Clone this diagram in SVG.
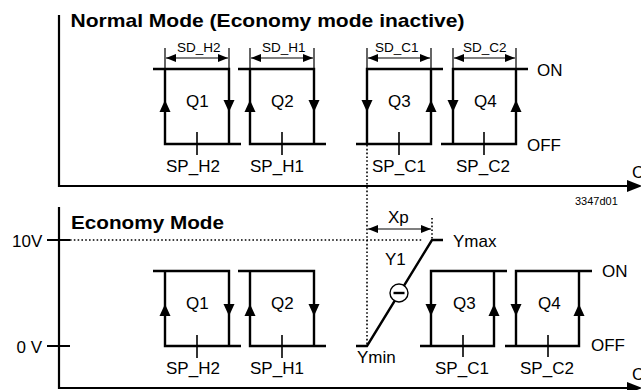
<svg xmlns="http://www.w3.org/2000/svg" width="641" height="390" viewBox="0 0 641 390">
<style>
text{font-family:"Liberation Sans",Arial,sans-serif;fill:#000}
.t{font-size:17px}
.s{font-size:13.5px}
.b{font-size:19px;font-weight:bold}
.box{fill:none;stroke:#000;stroke-width:2.4;stroke-linejoin:miter}
.tick{stroke:#000;stroke-width:1.6}
.dim{stroke:#000;stroke-width:1.2;fill:none}
.dot{stroke:#000;stroke-width:1.6;stroke-dasharray:1.6 2.2;fill:none}
.ax{stroke:#000;stroke-width:2.2;fill:none}
.ah{fill:#000}
</style>
<defs>
<marker id="da" viewBox="0 0 10 8" refX="10" refY="4" markerWidth="10" markerHeight="8" markerUnits="userSpaceOnUse" orient="auto-start-reverse"><path d="M0,0 L10,4 L0,8 Z" fill="#000"/></marker>
<path id="up" d="M0,-6 L5.5,6 L-5.5,6 Z"/>
<path id="dn" d="M0,6 L5.5,-6 L-5.5,-6 Z"/>
</defs>

<g id="axes">
<path class="ax" d="M59,15 V186 H628"/>
<path class="ah" d="M627,180 L642,186 L627,192 Z"/>
<path class="ax" d="M59,207 V388 H628"/>
<path class="ah" d="M627,382 L642,388 L627,394 Z"/>
<path class="ax" d="M47,240 H70 M47,346 H70"/>
</g>

<g id="labels">
<text class="b" x="70.5" y="26.5" textLength="394" lengthAdjust="spacingAndGlyphs">Normal Mode (Economy mode inactive)</text>
<text class="b" x="71" y="229" textLength="153" lengthAdjust="spacingAndGlyphs">Economy Mode</text>
<text class="t" x="12" y="247">10V</text>
<text class="t" x="16.5" y="353">0 V</text>
<text class="t" x="632" y="178">C</text>
<text class="t" x="632" y="380">C</text>
<text x="575" y="205" style="font-size:11px">3347d01</text>
<text class="t" x="537" y="76">ON</text>
<text class="t" x="527" y="150.5">OFF</text>
<text class="t" x="602" y="277">ON</text>
<text class="t" x="591" y="350.5">OFF</text>
</g>

<g id="connectors">
<path class="dot" d="M367,145 V345"/>
<path class="dot" d="M70,240 H422"/>
<path class="dot" d="M432,218 V239"/>
<path class="dim" d="M368,229 H431" marker-start="url(#da)" marker-end="url(#da)"/>
<text class="t" x="388" y="223">Xp</text>
</g>

<!-- Normal mode -->
<g id="n-q1">
<path class="box" d="M153,69 H229 V144 H241 M165,69 V144 H229"/>
<use href="#up" x="165" y="106"/><use href="#dn" x="229" y="106"/>
<path class="tick" d="M197,132 V155"/>
<path class="dim" d="M165,48 V68 M229,48 V68"/>
<path class="dim" d="M166,58 H228" marker-start="url(#da)" marker-end="url(#da)"/>
<text class="s" x="177" y="52">SD_H2</text>
<text class="t" x="186" y="107">Q1</text>
<text class="t" x="166" y="171.5">SP_H2</text>
</g>
<g id="n-q2">
<path class="box" d="M238,69 H314 V144 H326 M250,69 V144 H314"/>
<use href="#up" x="250" y="106"/><use href="#dn" x="314" y="106"/>
<path class="tick" d="M282,132 V155"/>
<path class="dim" d="M250,48 V68 M314,48 V68"/>
<path class="dim" d="M251,58 H313" marker-start="url(#da)" marker-end="url(#da)"/>
<text class="s" x="262" y="52">SD_H1</text>
<text class="t" x="271" y="107">Q2</text>
<text class="t" x="250" y="171.5">SP_H1</text>
</g>
<g id="n-q3">
<path class="box" d="M443,69 H367 V144 H356 M367,144 H431 V69"/>
<use href="#dn" x="367" y="106"/><use href="#up" x="431" y="106"/>
<path class="tick" d="M399,132 V155"/>
<path class="dim" d="M367,48 V68 M431,48 V68"/>
<path class="dim" d="M368,58 H430" marker-start="url(#da)" marker-end="url(#da)"/>
<text class="s" x="375" y="52">SD_C1</text>
<text class="t" x="388" y="107">Q3</text>
<text class="t" x="372" y="171.5">SP_C1</text>
</g>
<g id="n-q4">
<path class="box" d="M528,69 H453 V144 H441 M453,144 H516 V69"/>
<use href="#dn" x="453" y="106"/><use href="#up" x="516" y="106"/>
<path class="tick" d="M484,132 V155"/>
<path class="dim" d="M453,48 V68 M516,48 V68"/>
<path class="dim" d="M454,58 H515" marker-start="url(#da)" marker-end="url(#da)"/>
<text class="s" x="463" y="52">SD_C2</text>
<text class="t" x="474" y="107">Q4</text>
<text class="t" x="456" y="171.5">SP_C2</text>
</g>

<!-- Economy mode -->
<g id="e-q1">
<path class="box" d="M153,271 H229 V346 H241 M165,271 V346 H229"/>
<use href="#up" x="165" y="310"/><use href="#dn" x="229" y="310"/>
<path class="tick" d="M197,335 V358"/>
<text class="t" x="186" y="308.5">Q1</text>
<text class="t" x="166" y="373.5">SP_H2</text>
</g>
<g id="e-q2">
<path class="box" d="M238,271 H314 V346 H326 M250,271 V346 H314"/>
<use href="#up" x="250" y="310"/><use href="#dn" x="314" y="310"/>
<path class="tick" d="M282,335 V358"/>
<text class="t" x="271" y="308.5">Q2</text>
<text class="t" x="250" y="373.5">SP_H1</text>
</g>
<g id="e-y1">
<path class="box" d="M356,346 H367 L432,240 H443"/>
<circle cx="399" cy="293" r="9" fill="#fff" stroke="#000" stroke-width="1.4"/>
<path d="M393.5,293 H404.5" stroke="#000" stroke-width="2.4"/>
<text class="t" x="385" y="265">Y1</text>
<text class="t" x="453" y="247">Ymax</text>
<text class="t" x="357" y="363">Ymin</text>
</g>
<g id="e-q3">
<path class="box" d="M507,271 H431 V346 H420 M431,346 H494 V271"/>
<use href="#dn" x="431" y="310"/><use href="#up" x="494" y="310"/>
<path class="tick" d="M463,335 V357"/>
<text class="t" x="453" y="308.5">Q3</text>
<text class="t" x="435" y="373.5">SP_C1</text>
</g>
<g id="e-q4">
<path class="box" d="M592,271 H516 V346 H505 M516,346 H579 V271"/>
<use href="#dn" x="516" y="310"/><use href="#up" x="579" y="310"/>
<path class="tick" d="M548,335 V357"/>
<text class="t" x="538" y="308.5">Q4</text>
<text class="t" x="520" y="373.5">SP_C2</text>
</g>
</svg>
